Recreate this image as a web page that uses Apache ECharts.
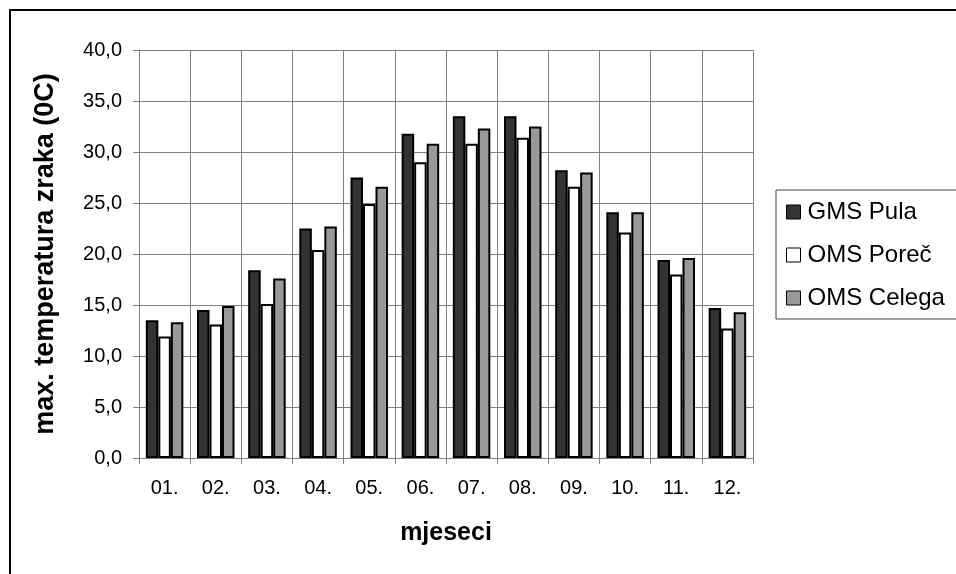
<!DOCTYPE html>
<html>
<head>
<meta charset="utf-8">
<script src="https://cdn.jsdelivr.net/npm/echarts@6/dist/echarts.min.js"></script>
<style>
  html, body { margin: 0; padding: 0; background: #fff; }
  #chart { width: 956px; height: 574px; }
</style>
</head>
<body>
<div id="chart"></div>
<script>
// Monthly maximum air temperature (°C) at three stations
const months = ['01.', '02.', '03.', '04.', '05.', '06.', '07.', '08.', '09.', '10.', '11.', '12.'];
const gmsPula    = [13.5, 14.5, 18.4, 22.5, 27.5, 31.8, 33.5, 33.5, 28.2, 24.1, 19.4, 14.7];
const omsPorec   = [11.9, 13.1, 15.1, 20.4, 24.9, 29.0, 30.8, 31.4, 26.6, 22.1, 18.0, 12.7];
const omsCelega  = [13.3, 14.9, 17.6, 22.7, 26.6, 30.8, 32.3, 32.5, 28.0, 24.1, 19.6, 14.3];
const seriesNames = ['GMS Pula', 'OMS Poreč', 'OMS Celega'];

const FONT = '"Liberation Sans", Arial, sans-serif';

const chart = echarts.init(document.getElementById('chart'), null, { renderer: 'canvas' });

function barSeries(name, data, color) {
  return {
    name: name,
    type: 'bar',
    data: data,
    barWidth: 12.5,
    barGap: '0%',
    itemStyle: { color: color, borderColor: '#000', borderWidth: 2 }
  };
}

chart.setOption({
  animation: false,
  backgroundColor: '#fff',
  textStyle: { fontFamily: FONT },
  graphic: [{
    type: 'rect',
    shape: { x: 10, y: 10, width: 1000, height: 620 },
    style: { fill: 'none', stroke: '#000', lineWidth: 2 },
    z: 0
  }],
  grid: { left: 139, top: 50, width: 614, height: 408, containLabel: false },
  legend: {
    orient: 'vertical',
    left: 776,
    top: 190,
    padding: [10, 40, 9, 10],
    itemGap: 19,
    itemWidth: 14,
    itemHeight: 14,
    icon: 'rect',
    backgroundColor: '#fff',
    borderColor: '#404040',
    borderWidth: 1,
    borderRadius: 0,
    itemStyle: { borderColor: '#000', borderWidth: 1 },
    textStyle: { fontFamily: FONT, fontSize: 24, color: '#000', padding: [0, 0, 0, 2] },
    data: seriesNames
  },
  xAxis: {
    type: 'category',
    data: months,
    boundaryGap: true,
    name: 'mjeseci',
    nameLocation: 'middle',
    nameGap: 63,
    nameTextStyle: { fontFamily: FONT, fontSize: 25, fontWeight: 'bold', color: '#000' },
    axisLine: { lineStyle: { color: '#808080', width: 1 } },
    axisTick: { show: true, length: 6, lineStyle: { color: '#808080' } },
    axisLabel: { fontFamily: FONT, fontSize: 20, color: '#000', margin: 20 },
    splitLine: { show: true, lineStyle: { color: '#808080', width: 1 } }
  },
  yAxis: {
    type: 'value',
    min: 0,
    max: 40,
    interval: 5,
    name: 'max. temperatura zraka (0C)',
    nameLocation: 'middle',
    nameGap: 80,
    nameTextStyle: { fontFamily: FONT, fontSize: 27, fontWeight: 'bold', color: '#000' },
    axisLine: { show: true, lineStyle: { color: '#808080', width: 1 } },
    axisTick: { show: true, length: 6, lineStyle: { color: '#808080' } },
    axisLabel: {
      fontFamily: FONT, fontSize: 20, color: '#000', margin: 17,
      formatter: v => v.toFixed(1).replace('.', ',')
    },
    splitLine: { show: true, lineStyle: { color: '#808080', width: 1 } }
  },
  series: [
    barSeries(seriesNames[0], gmsPula, '#333333'),
    barSeries(seriesNames[1], omsPorec, '#ffffff'),
    barSeries(seriesNames[2], omsCelega, '#999999')
  ]
});
</script>
</body>
</html>
